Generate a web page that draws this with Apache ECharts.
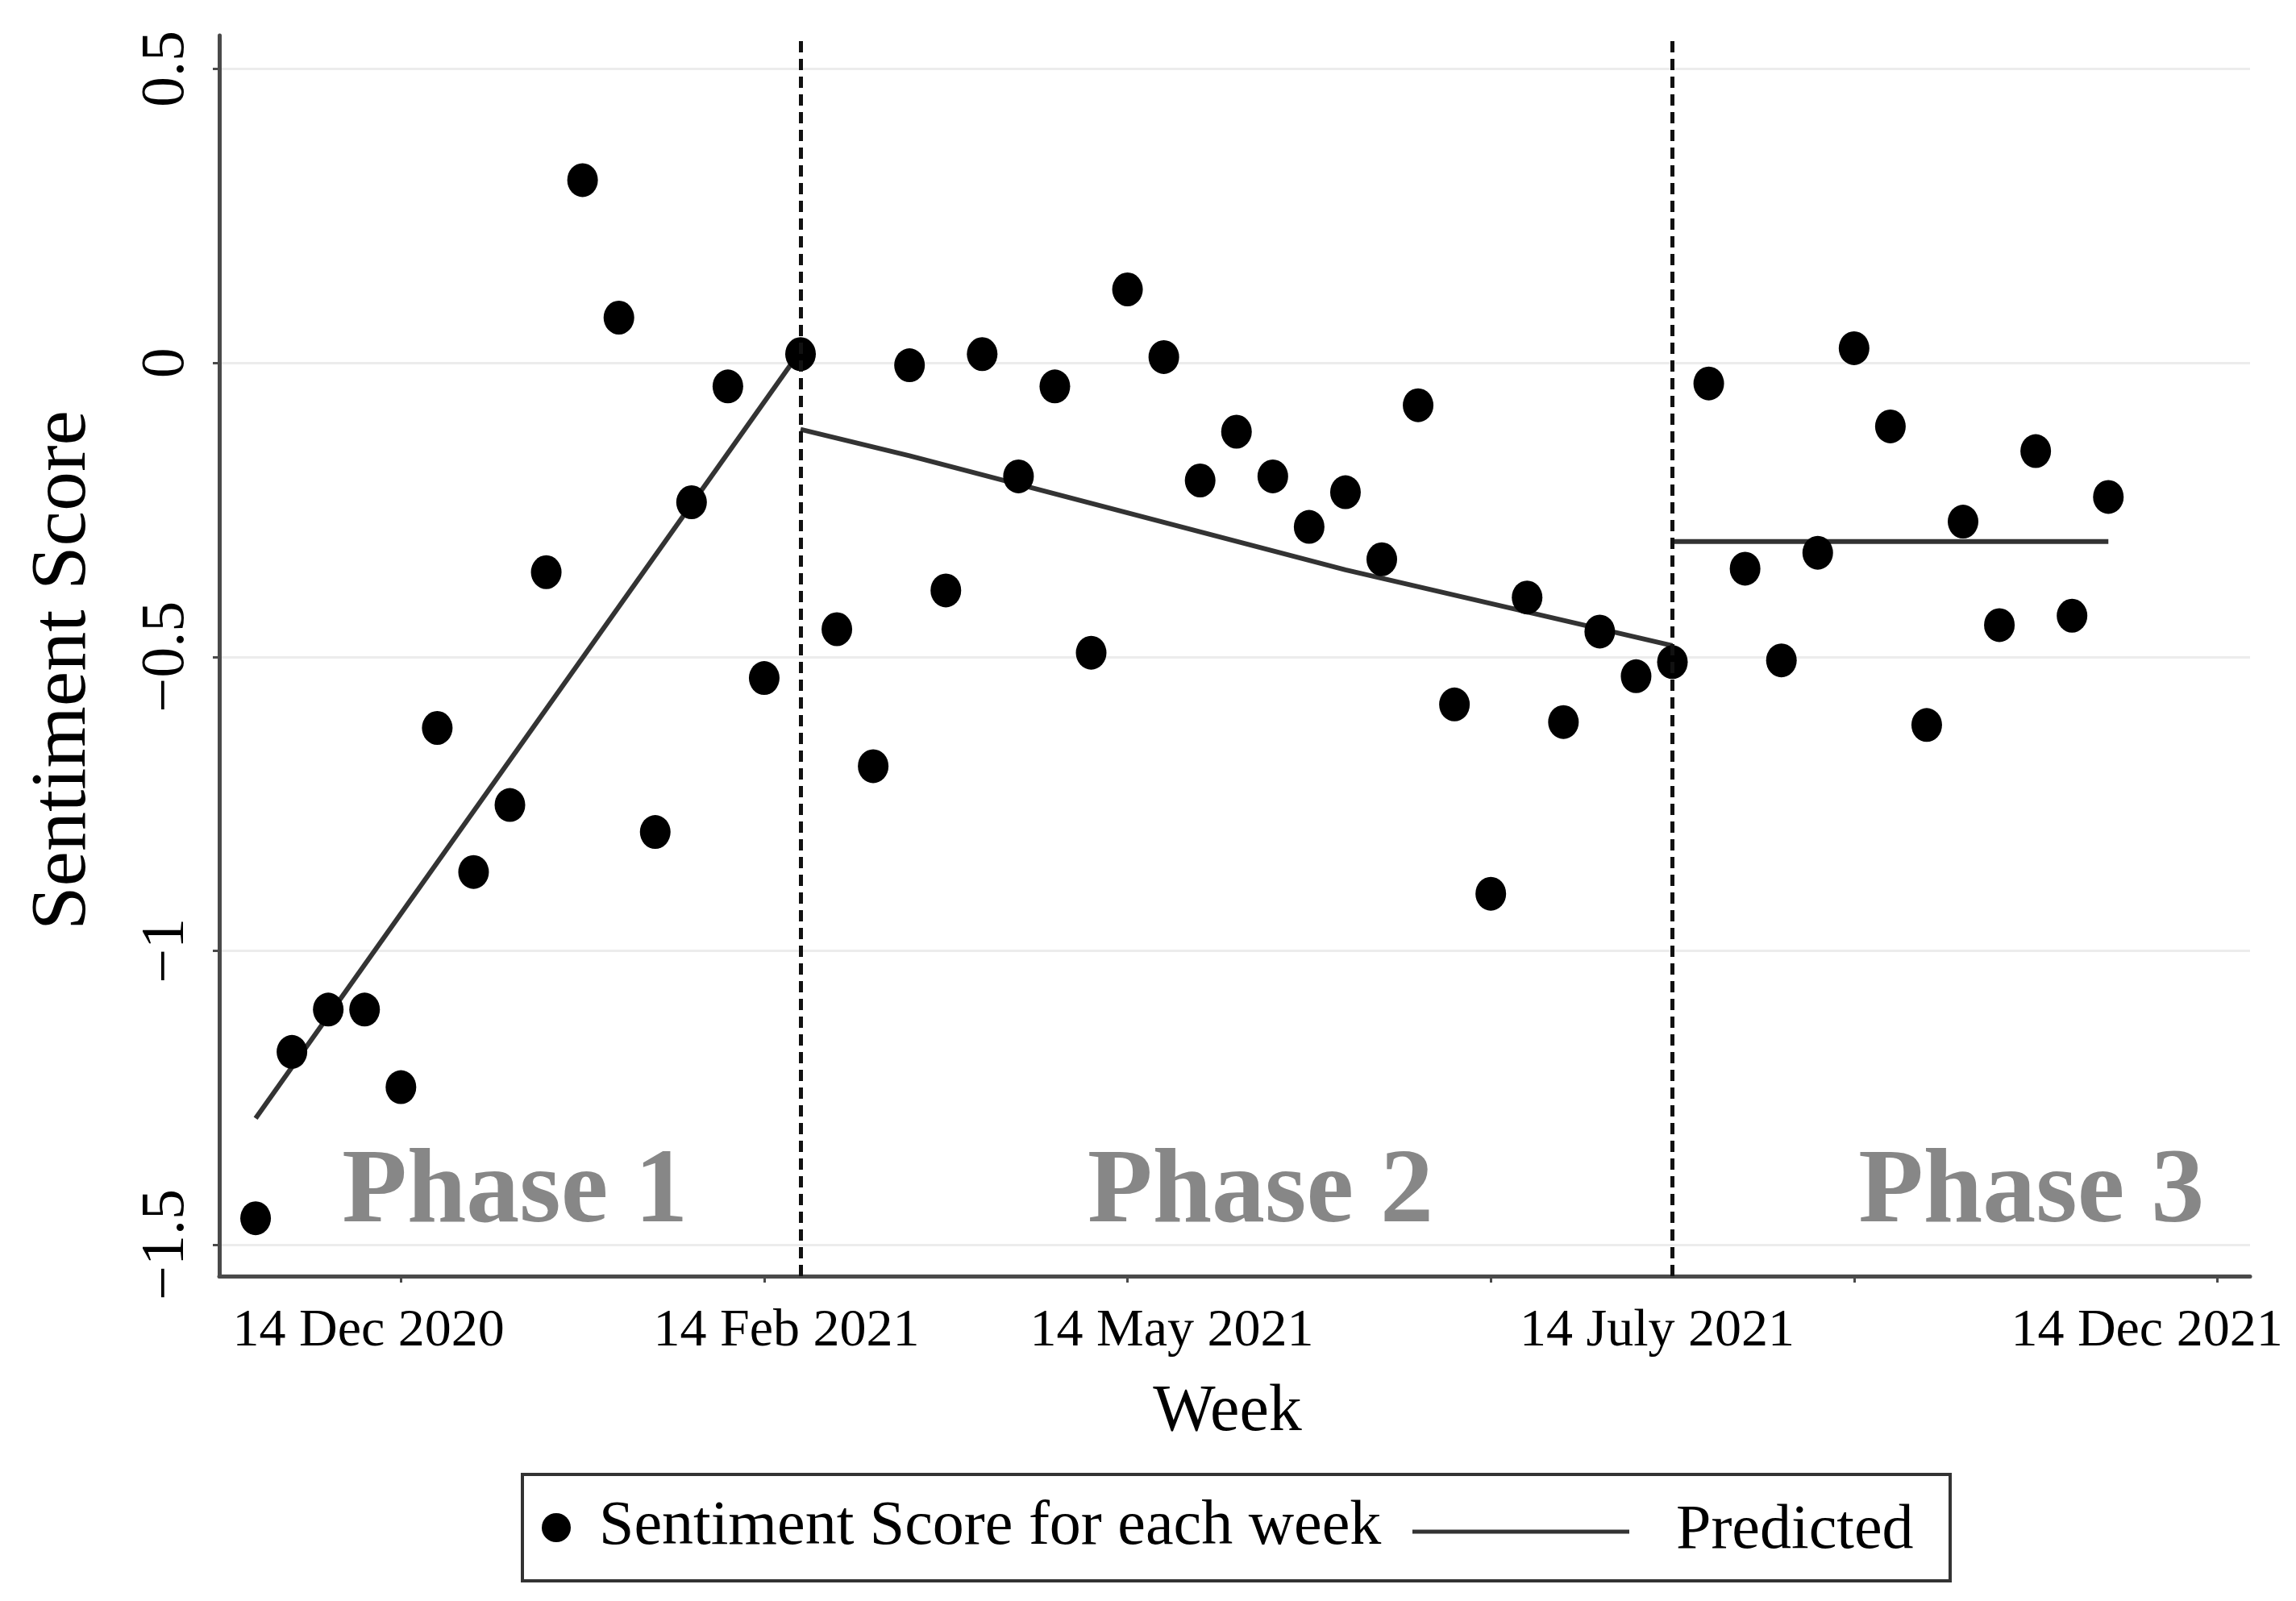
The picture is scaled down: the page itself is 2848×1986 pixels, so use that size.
<!DOCTYPE html>
<html>
<head>
<meta charset="utf-8">
<script src="https://cdn.jsdelivr.net/npm/echarts@6/dist/echarts.min.js"></script>
<style>
html,body{margin:0;padding:0;background:#fff;}
#c{width:2848px;height:1986px;}
</style>
</head>
<body>
<div id="c"></div>
<script>
// ---- data ----
const weeks = [1,2,3,4,5,6,7,8,9,10,11,12,13,14,15,16,17,18,19,20,21,22,23,24,25,26,
               27,28,29,30,31,32,33,34,35,36,37,38,39,40,41,42,43,44,45,46,47,48,49,50,51,52];
const scores = [-1.455,-1.172,-1.100,-1.100,-1.232,-0.621,-0.866,-0.752,-0.356,0.311,
                0.077,-0.798,-0.237,-0.040,-0.536,0.015,-0.453,-0.686,-0.004,-0.387,
                0.015,-0.193,-0.040,-0.493,0.125,0.010,-0.200,-0.117,-0.193,-0.279,
                -0.220,-0.334,-0.072,-0.581,-0.903,-0.399,-0.611,-0.457,-0.533,-0.509,
                -0.035,-0.350,-0.506,-0.323,0.025,-0.108,-0.616,-0.270,-0.446,-0.150,
                -0.430,-0.228];
const predictedPhase1 = [[1,-1.285],[15.9,0.012]];
const predictedPhase2 = [[16,-0.113],[19,-0.158],[31,-0.352],[40,-0.481]];
const predictedPhase3 = [[40,-0.304],[52,-0.304]];
const phaseBreaks = [16, 40];
const phaseNames = ['Phase 1','Phase 2','Phase 3'];
const phaseAnchors = [[8.14,-1.413],[28.66,-1.413],[49.88,-1.413]];
const yTicks = [-1.5,-1,-0.5,0,0.5];
const xTicks = [5,15,25,35,45,55];
const xTickLabels = ['14 Dec 2020','14 Feb 2021','14 May 2021','14 July 2021','14 Dec 2021'];
const xLabelAnchors = [4.11,15.61,26.22,39.58,53.06];

// ---- chart ----
const FONT = '"Liberation Serif","Times New Roman",serif';
const chart = echarts.init(document.getElementById('c'), null, {renderer:'canvas'});
const fmtY = v => (v < 0 ? '\u2212' + String(Math.abs(v)) : String(v));
const fmtX = v => {
  let best = 0;
  for (let i = 1; i < xLabelAnchors.length; i++) {
    if (Math.abs(xLabelAnchors[i] - v) < Math.abs(xLabelAnchors[best] - v)) best = i;
  }
  return xTickLabels[best];
};
const axisColor = '#4a4a4a';

const option = {
  animation: false,
  backgroundColor: '#ffffff',
  textStyle: {fontFamily: FONT},
  grid: {left: 272, right: 57, top: 44, bottom: 403, containLabel: false, outerBoundsMode: 'none'},
  xAxis: {
    type: 'value', min: 0, max: 55.9,
    name: 'Week', nameLocation: 'middle', nameGap: 128, nameMoveOverlap: false,
    nameTextStyle: {fontFamily: FONT, fontSize: 82, color: '#000', padding: [0, 18, 0, 0]},
    axisLine: {show: true, onZero: false, lineStyle: {color: axisColor, width: 5}},
    axisTick: {show: true, length: 8, customValues: xTicks, lineStyle: {color: axisColor, width: 3}},
    axisLabel: {show: true, customValues: xLabelAnchors, formatter: fmtX, margin: 36,
                fontFamily: FONT, fontSize: 66, color: '#000', hideOverlap: false},
    splitLine: {show: false}
  },
  yAxis: {
    type: 'value', min: -1.5535, max: 0.557,
    name: 'Sentiment Score', nameLocation: 'middle', nameGap: 144, nameRotate: 90, nameMoveOverlap: false,
    nameTextStyle: {fontFamily: FONT, fontSize: 98, color: '#000', padding: [0, 36, 0, 0]},
    axisLine: {show: true, onZero: false, lineStyle: {color: axisColor, width: 5}},
    axisTick: {show: true, length: 8, customValues: yTicks, lineStyle: {color: axisColor, width: 3}},
    axisLabel: {show: true, customValues: yTicks, formatter: fmtY, rotate: 90, margin: 27,
                fontFamily: FONT, fontSize: 76, color: '#000', hideOverlap: false},
    splitLine: {show: true, lineStyle: {color: '#ececec', width: 3}}
  },
  legend: [
    {
      data: ['Sentiment Score for each week'], selectedMode: false,
      left: 672, top: 1856, padding: 0,
      icon: 'circle', itemWidth: 96, itemHeight: 36,
      itemStyle: {color: '#000', opacity: 1},
      textStyle: {fontFamily: FONT, fontSize: 78, color: '#000'}
    },
    {
      data: ['Predicted'], selectedMode: false,
      left: 1752, top: 1861, padding: 0,
      icon: 'rect', itemWidth: 269, itemHeight: 5,
      itemStyle: {color: '#333', opacity: 1},
      textStyle: {fontFamily: FONT, fontSize: 78, color: '#000', padding: [0, 0, 0, 53]}
    }
  ],
  graphic: [
    {type: 'rect', z: 10, silent: true,
     shape: {x: 648, y: 1829, width: 1771, height: 132},
     style: {fill: 'none', stroke: '#333', lineWidth: 4}}
  ],
  series: [
    {
      type: 'scatter', name: 'phase labels', silent: true, z: 1,
      data: phaseNames.map((n, i) => ({name: n, value: phaseAnchors[i]})),
      symbol: 'circle', symbolSize: 1, itemStyle: {color: 'rgba(0,0,0,0)', opacity: 1},
      label: {show: true, position: 'inside', formatter: '{b}', fontFamily: FONT,
              fontWeight: 'bold', fontSize: 132, color: '#878787', opacity: 1}
    },
    {
      type: 'line', name: 'Predicted', data: predictedPhase1, color: '#333',
      symbol: 'none', showSymbol: false, silent: true, z: 2,
      lineStyle: {color: '#333', width: 6}
    },
    {
      type: 'line', name: 'Predicted', data: predictedPhase2, color: '#333',
      symbol: 'none', showSymbol: false, silent: true, z: 2,
      lineStyle: {color: '#333', width: 6}
    },
    {
      type: 'line', name: 'Predicted', data: predictedPhase3, color: '#333',
      symbol: 'none', showSymbol: false, silent: true, z: 2,
      lineStyle: {color: '#333', width: 6}
    },
    {
      type: 'scatter', name: 'Sentiment Score for each week', z: 3,
      data: weeks.map((w, i) => [w, scores[i]]),
      symbol: 'circle', symbolSize: [38, 42], color: '#000',
      itemStyle: {color: '#000', opacity: 1},
      markLine: {
        silent: true, symbol: ['none', 'none'], label: {show: false},
        lineStyle: {color: '#111', width: 5, type: [14, 8], opacity: 1},
        emphasis: {disabled: true},
        data: phaseBreaks.map(x => ({xAxis: x}))
      }
    }
  ]
};
chart.setOption(option);
</script>
</body>
</html>
